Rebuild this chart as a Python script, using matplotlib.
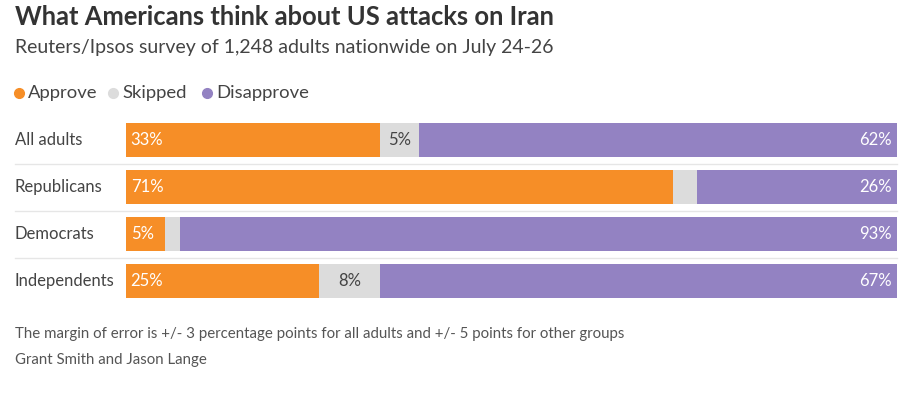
import numpy as np
import matplotlib
matplotlib.use("Agg")
import matplotlib.pyplot as plt
from matplotlib.transforms import blended_transform_factory
from matplotlib.lines import Line2D

plt.rcParams["font.family"] = ["Lato", "DejaVu Sans"]

groups = ["All adults", "Republicans", "Democrats", "Independents"]
approve = [33, 71, 5, 25]
skipped = [5, 3, 2, 8]
disapprove = [62, 26, 93, 67]
series_names = ["Approve", "Skipped", "Disapprove"]

ORANGE = "#f68e27"
GREY = "#dcdcdc"
PURPLE = "#9382c2"
colors = [ORANGE, GREY, PURPLE]

W, H = 915, 394
fig = plt.figure(figsize=(W / 100, H / 100), dpi=100)

def fx(px):
    return px / W

def fy(py):
    return 1 - py / H

# header
fig.text(fx(15), fy(17), "What Americans think about US attacks on Iran",
         fontsize=18.4, fontweight="bold", color="#333333", va="center")
fig.text(fx(15), fy(48), "Reuters/Ipsos survey of 1,248 adults nationwide on July 24-26",
         fontsize=14, color="#444444", va="center")

# legend
lx = [19, 113, 207]
for x, name, c in zip(lx, series_names, colors):
    fig.add_artist(Line2D([fx(x)], [fy(93)], marker="o", markersize=7,
                          color=c, transform=fig.transFigure))
    fig.text(fx(x + 9), fy(93), name, fontsize=13.3, color="#444444", va="center")

# bars
ax = fig.add_axes([fx(126), fy(304.5), fx(897) - fx(126), (304.5 - 116.5) / H])
y = np.arange(len(groups))
left = np.zeros(len(groups))
for vals, c in zip([approve, skipped, disapprove], colors):
    ax.barh(y, vals, left=left, height=0.72, color=c, linewidth=0)
    left += np.array(vals)

for i in range(len(groups)):
    ax.text(0.6, i, f"{approve[i]}%", color="white", fontsize=12, va="center", ha="left")
    if skipped[i] >= 4:
        ax.text(approve[i] + skipped[i] / 2, i, f"{skipped[i]}%", color="#444444",
                fontsize=12, va="center", ha="center")
    ax.text(99.3, i, f"{disapprove[i]}%", color="white", fontsize=12, va="center", ha="right")
    ax.text(-14.4, i, groups[i], color="#444444", fontsize=12, va="center", ha="left")

trans = blended_transform_factory(fig.transFigure, ax.transData)
for b in [0.5, 1.5, 2.5]:
    ax.plot([fx(15), fx(897)], [b, b], color="#e6e6e6", linewidth=1,
            transform=trans, clip_on=False)

ax.set_xlim(0, 100)
ax.set_ylim(3.5, -0.5)
ax.axis("off")

# footer
fig.text(fx(15), fy(334), "The margin of error is +/- 3 percentage points for all adults and +/- 5 points for other groups",
         fontsize=10.8, color="#555555", va="center")
fig.text(fx(15), fy(360), "Grant Smith and Jason Lange", fontsize=10.8, color="#555555", va="center")

fig.savefig("out.png", dpi=100, facecolor="white")
